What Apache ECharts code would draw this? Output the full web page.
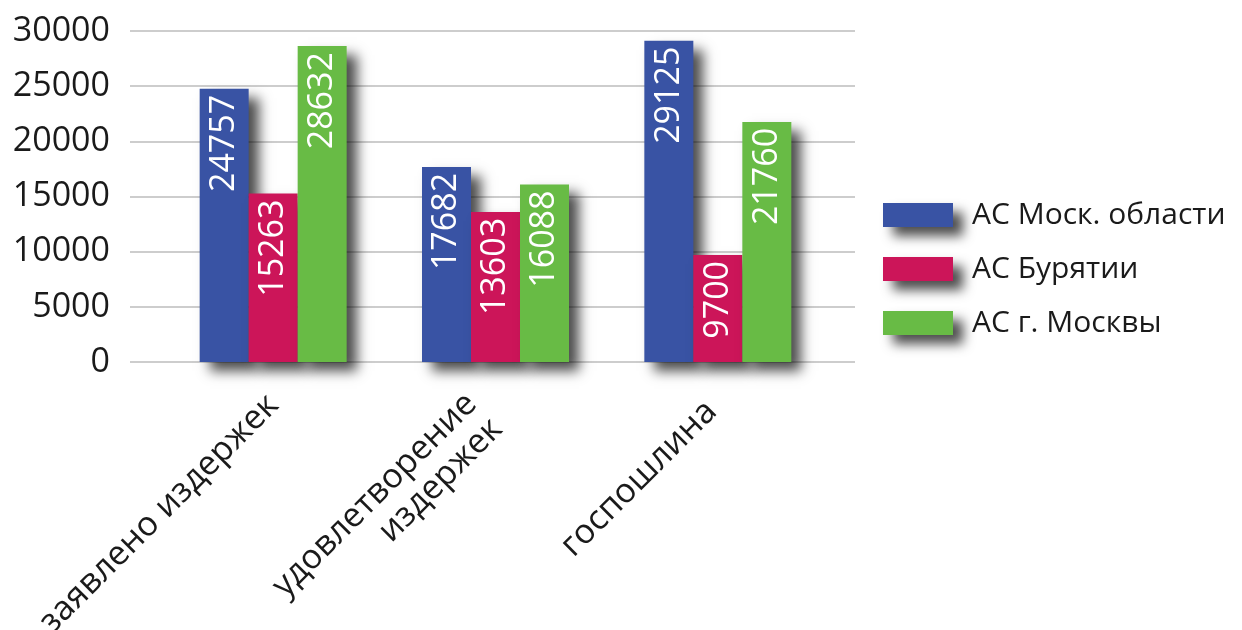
<!DOCTYPE html>
<html>
<head>
<meta charset="utf-8">
<script src="https://cdn.jsdelivr.net/npm/echarts@6/dist/echarts.min.js"></script>
<style>
html,body{margin:0;padding:0;background:#fff;}
#chart{width:1242px;height:630px;}
</style>
</head>
<body>
<div id="chart"></div>
<script>
const categories = ['заявлено издержек', 'удовлетворение\nиздержек', 'госпошлина'];
const seriesNames = ['АС Моск. области', 'АС Бурятии', 'АС г. Москвы'];
const moskObl = [24757, 17682, 29125];
const buryatia = [15263, 13603, 9700];
const moscow = [28632, 16088, 21760];
const yTicks = [0, 5000, 10000, 15000, 20000, 25000, 30000];

const colors = ['#3953a4', '#cc1559', '#68bb45'];
const font = 'Open Sans';
const shadow = {shadowBlur: 12, shadowColor: 'rgba(0,0,0,0.7)', shadowOffsetX: 10, shadowOffsetY: 9};

const chart = echarts.init(document.getElementById('chart'), null, {renderer: 'canvas'});

function barSeries(name, data, color) {
  return {
    name: name,
    type: 'bar',
    xAxisIndex: 1,
    yAxisIndex: 1,
    data: data,
    barWidth: 49,
    barGap: '0%',
    itemStyle: Object.assign({color: color}, shadow),
    label: {
      show: true,
      position: 'insideTop',
      distance: 6,
      rotate: 90,
      align: 'right',
      verticalAlign: 'middle',
      color: '#fff',
      fontFamily: font,
      fontSize: 34
    }
  };
}

const labelPads = [[0, 0, 0, 0], [80, 16, 0, 0], [0, 9, 0, 0]];
const catData = categories.map(function (c, i) {
  return {value: c, textStyle: {padding: labelPads[i]}};
});

chart.setOption({
  animation: false,
  color: colors,
  textStyle: {fontFamily: font},
  grid: [
    {left: 130, right: 387, top: 31, bottom: 268, containLabel: false, outerBoundsMode: 'none'},
    {left: 162, right: 413, top: 31, bottom: 268, containLabel: false, outerBoundsMode: 'none'}
  ],
  legend: {
    orient: 'vertical',
    left: 878,
    top: 195,
    itemWidth: 70,
    itemHeight: 24,
    itemGap: 24,
    icon: 'rect',
    itemStyle: shadow,
    textStyle: {fontFamily: font, fontSize: 30, color: '#1a1a1a', padding: [0, 0, 0, 14], lineHeight: 30},
    data: seriesNames
  },
  xAxis: [
    {type: 'value', gridIndex: 0, min: 0, max: 1, show: false},
    {
      type: 'category', gridIndex: 1, data: catData,
      axisLine: {show: false}, axisTick: {show: false},
      axisLabel: {rotate: 45, margin: 38, interval: 0, fontFamily: font, fontSize: 34, color: '#1a1a1a', lineHeight: 36}
    }
  ],
  yAxis: [
    {
      type: 'value', gridIndex: 0,
      min: yTicks[0], max: yTicks[yTicks.length - 1], interval: yTicks[1] - yTicks[0],
      axisLine: {show: false}, axisTick: {show: false},
      axisLabel: {margin: 20, fontFamily: font, fontSize: 34, color: '#1a1a1a', formatter: function (v) { return String(v); }},
      splitLine: {lineStyle: {color: '#bcbcbc', width: 1.5}}
    },
    {
      type: 'value', gridIndex: 1,
      min: yTicks[0], max: yTicks[yTicks.length - 1],
      show: false, splitLine: {show: false}
    }
  ],
  series: [
    barSeries(seriesNames[0], moskObl, colors[0]),
    barSeries(seriesNames[1], buryatia, colors[1]),
    barSeries(seriesNames[2], moscow, colors[2])
  ]
});
</script>
</body>
</html>
